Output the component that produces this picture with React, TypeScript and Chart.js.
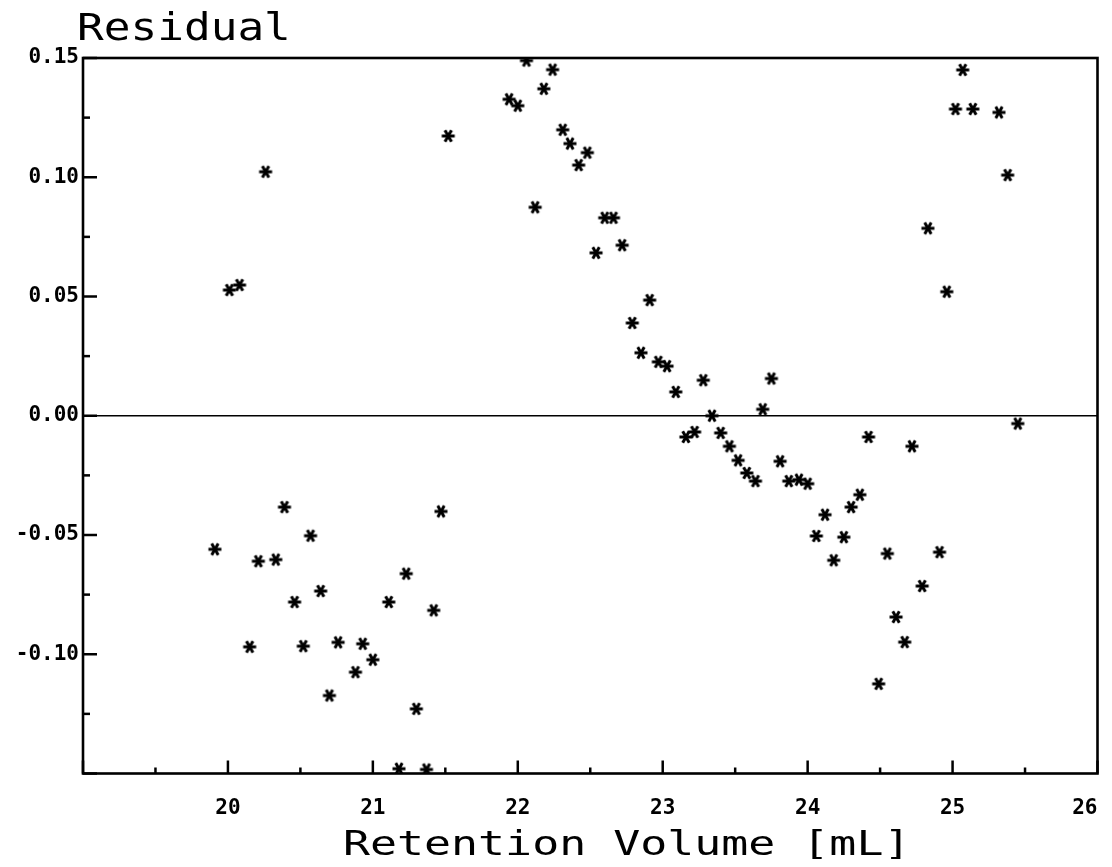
import React, { useEffect, useRef } from 'react';
import { Chart, registerables } from 'chart.js';

Chart.register(...registerables);

// Retention volume [mL] of each residual point
const retentionVolume = [
  19.91, 20.01, 20.08, 20.15, 20.21, 20.26, 20.33, 20.39, 20.46, 20.52,
  20.57, 20.64, 20.70, 20.76, 20.88, 20.93, 21.00, 21.11, 21.18, 21.23,
  21.30, 21.37, 21.42, 21.47, 21.52, 21.94, 22.00, 22.06, 22.12, 22.18,
  22.24, 22.31, 22.36, 22.42, 22.48, 22.54, 22.60, 22.66, 22.72, 22.79,
  22.85, 22.91, 22.97, 23.03, 23.09, 23.16, 23.22, 23.28, 23.34, 23.40,
  23.46, 23.52, 23.58, 23.64, 23.69, 23.75, 23.81, 23.87, 23.94, 24.00,
  24.06, 24.12, 24.18, 24.25, 24.30, 24.36, 24.42, 24.49, 24.55, 24.61,
  24.67, 24.72, 24.79, 24.83, 24.91, 24.96, 25.02, 25.07, 25.14, 25.32,
  25.38, 25.45,
];

// Residual values
const residual = [
  -0.056, 0.0527, 0.0548, -0.0969, -0.061, 0.1023, -0.0603, -0.0383, -0.0781, -0.0966,
  -0.0503, -0.0735, -0.1173, -0.095, -0.1075, -0.0956, -0.1023, -0.0781, -0.148, -0.0662,
  -0.1229, -0.1483, -0.0816, -0.0401, 0.1173, 0.1327, 0.13, 0.1489, 0.0874, 0.1371,
  0.1451, 0.1199, 0.1141, 0.1051, 0.1103, 0.0683, 0.083, 0.083, 0.0715, 0.0389,
  0.0264, 0.0485, 0.0226, 0.0208, 0.01, -0.0089, -0.0068, 0.0149, 0.0, -0.0072,
  -0.0128, -0.0187, -0.024, -0.0274, 0.0027, 0.0156, -0.0191, -0.0274, -0.0268, -0.0285,
  -0.0504, -0.0415, -0.0606, -0.0509, -0.0383, -0.0331, -0.0089, -0.1124, -0.0578, -0.0844,
  -0.0949, -0.0128, -0.0714, 0.0786, -0.0572, 0.052, 0.1286, 0.145, 0.1286, 0.1272,
  0.1009, -0.0033,
];

// Axis ranges / ticks
const xRange = [19, 26];
const xStep = 1;
const xHiddenLabels = [19];
const yRange = [-0.15, 0.15];
const yStep = 0.05;
const yHiddenLabels = [-0.15];
const zeroLineX = [19, 26];
const zeroLineY = [0, 0];

const yTitle = 'Residual';
const xTitle = 'Retention Volume [mL]';

const TICK_FONT = '"DejaVu Sans Mono", monospace';
const TITLE_FONT = '"DejaVu Sans Mono", monospace';

function makeMarker(): HTMLCanvasElement {
  const size = 16;
  const m = document.createElement('canvas');
  m.width = size;
  m.height = size;
  const c = m.getContext('2d')!;
  c.strokeStyle = '#000';
  c.lineWidth = 3;
  c.lineCap = 'butt';
  const cx = size / 2;
  const cy = size / 2;
  const r = 6.5;
  [0, 60, 120].forEach((deg) => {
    const a = (deg * Math.PI) / 180;
    c.beginPath();
    c.moveTo(cx - r * Math.cos(a), cy - r * Math.sin(a));
    c.lineTo(cx + r * Math.cos(a), cy + r * Math.sin(a));
    c.stroke();
  });
  return m;
}

function drawWideText(ctx: CanvasRenderingContext2D, text: string, x: number, y: number, size: number, sx: number) {
  ctx.save();
  ctx.translate(x, y);
  ctx.scale(sx, 1);
  ctx.font = `${size}px ${TITLE_FONT}`;
  (ctx as any).letterSpacing = '0px';
  ctx.fillStyle = '#000';
  ctx.textAlign = 'left';
  ctx.textBaseline = 'alphabetic';
  ctx.fillText(text, 0, 0);
  ctx.restore();
}

const framePlugin = {
  id: 'frameTicks',
  afterDraw(chart: any) {
    const ctx = chart.ctx;
    const { left, right, top, bottom } = chart.chartArea;
    const xs = chart.scales.x;
    const ys = chart.scales.y;
    ctx.save();
    ctx.strokeStyle = '#000';
    ctx.lineWidth = 2.6;
    ctx.strokeRect(left, top, right - left, bottom - top);

    const line = (x1: number, y1: number, x2: number, y2: number) => {
      ctx.beginPath();
      ctx.moveTo(x1, y1);
      ctx.lineTo(x2, y2);
      ctx.stroke();
    };
    ctx.lineWidth = 2.5;
    const xv = xs.ticks.map((t: any) => t.value);
    xv.forEach((v: number, i: number) => {
      const px = xs.getPixelForValue(v);
      line(px, bottom, px, bottom - 13);
      if (i < xv.length - 1) {
        const pm = xs.getPixelForValue((v + xv[i + 1]) / 2);
        line(pm, bottom, pm, bottom - 6);
      }
    });
    const yv = ys.ticks.map((t: any) => t.value);
    yv.forEach((v: number, i: number) => {
      const py = ys.getPixelForValue(v);
      line(left, py, left + 14, py);
      if (i < yv.length - 1) {
        const pm = ys.getPixelForValue((v + yv[i + 1]) / 2);
        line(left, pm, left + 7, pm);
      }
    });
    ctx.restore();

    // titles
    drawWideText(ctx, yTitle, 69, 32, 37, 1.2);
    drawWideText(ctx, xTitle, 335, 847, 33, 1.36);
  },
};

export default function App() {
  const ref = useRef<HTMLCanvasElement>(null);
  useEffect(() => {
    if (!ref.current) return;
    const marker = makeMarker();
    const points = retentionVolume.map((x, i) => ({ x, y: residual[i] }));
    const zero = zeroLineX.map((x, i) => ({ x, y: zeroLineY[i] }));
    const chart = new Chart(ref.current, {
      type: 'scatter',
      data: {
        datasets: [
          {
            data: zero,
            showLine: true,
            borderColor: '#000',
            borderWidth: 1.6,
            pointRadius: 0,
          },
          {
            data: points,
            pointStyle: marker as any,
            pointRadius: 7,
            backgroundColor: '#000',
            borderColor: '#000',
            borderWidth: 0,
          },
        ],
      },
      options: {
        animation: false,
        responsive: true,
        maintainAspectRatio: false,
        events: [],
        plugins: { legend: { display: false }, tooltip: { enabled: false } },
        layout: { padding: { top: 50, right: 14.5, left: 0, bottom: 0 } },
        scales: {
          x: {
            type: 'linear',
            min: xRange[0],
            max: xRange[1],
            afterFit: (s: any) => {
              s.height = 85.5;
              s.paddingLeft = 0;
              s.paddingRight = 0;
            },
            grid: { display: false, drawTicks: false },
            border: { display: false },
            ticks: {
              stepSize: xStep,
              padding: 22,
              align: 'inner',
              color: '#000',
              maxRotation: 0,
              autoSkip: false,
              font: { family: TICK_FONT, size: 21, weight: 'bold' },
              callback: (v: any) => (xHiddenLabels.some((h) => Math.abs(h - v) < 1e-9) ? '' : String(v)),
            },
          },
          y: {
            type: 'linear',
            min: yRange[0],
            max: yRange[1],
            afterFit: (s: any) => {
              s.width = 75;
            },
            grid: { display: false, drawTicks: false },
            border: { display: false },
            ticks: {
              stepSize: yStep,
              padding: 4,
              color: '#000',
              autoSkip: false,
              font: { family: TICK_FONT, size: 21, weight: 'bold' },
              callback: (v: any) => {
                if (yHiddenLabels.some((h) => Math.abs(h - v) < 1e-9)) return '';
                if (Math.abs(v) < 1e-9) return '0.00';
                return Number(v).toFixed(2);
              },
            },
          },
        },
      },
      plugins: [framePlugin],
    });
    return () => chart.destroy();
  }, []);
  return (
    <div style={{ position: 'relative', width: 1104, height: 851 }}>
      <canvas ref={ref} />
    </div>
  );
}
